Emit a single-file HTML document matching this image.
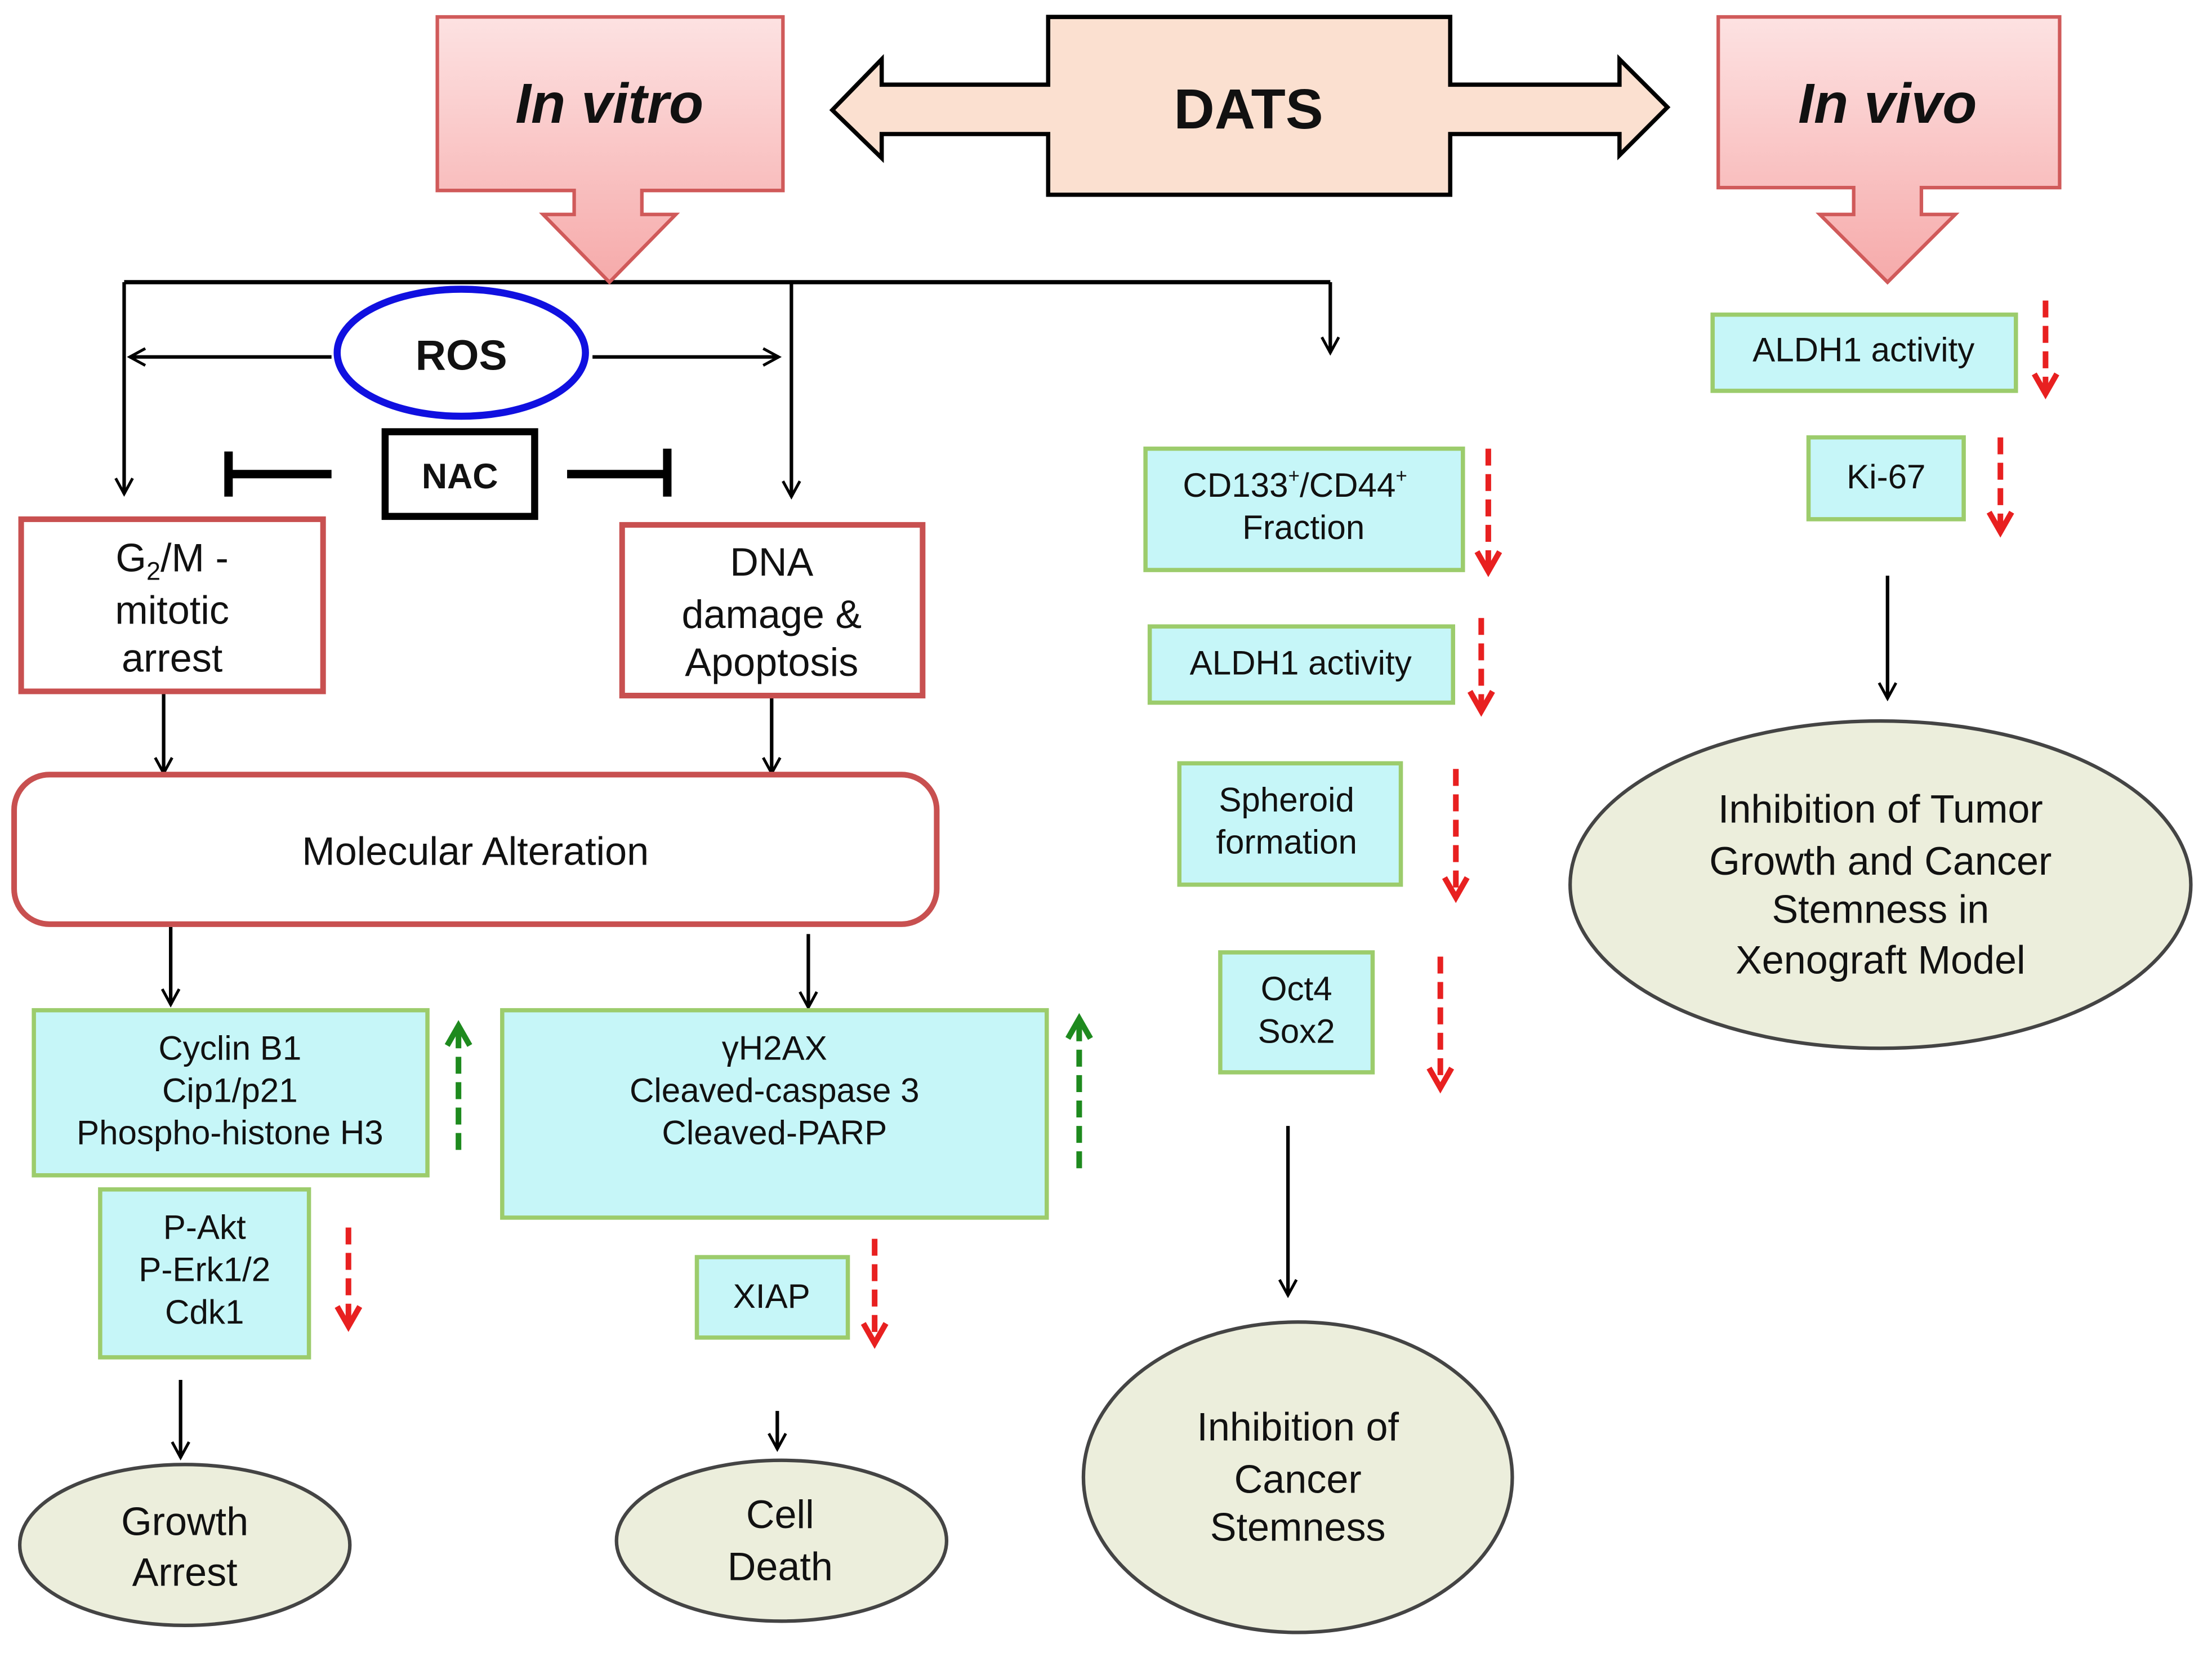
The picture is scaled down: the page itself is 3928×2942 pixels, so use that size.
<!DOCTYPE html>
<html><head><meta charset="utf-8"><style>
html,body{margin:0;padding:0;background:#fff;}
svg{display:block;}
text{font-family:"Liberation Sans",Arial,sans-serif;fill:#111;}
</style></head><body>
<svg width="3928" height="2942" viewBox="0 0 1568 1174.4" preserveAspectRatio="none" xmlns="http://www.w3.org/2000/svg">
<defs>
<linearGradient id="pk" x1="0" y1="0" x2="0" y2="1"><stop offset="0" stop-color="#fde2e2"/><stop offset="1" stop-color="#f6aaaa"/></linearGradient>
<marker id="ah" markerWidth="14" markerHeight="14" refX="12" refY="7" orient="auto" markerUnits="userSpaceOnUse"><path d="M1,1 L12,7 L1,13" fill="none" stroke="#000" stroke-width="2"/></marker>
<marker id="rh" markerWidth="20" markerHeight="20" refX="16" refY="10" orient="auto" markerUnits="userSpaceOnUse"><path d="M2,2 L16,10 L2,18" fill="none" stroke="#e82020" stroke-width="4"/></marker>
<marker id="gh" markerWidth="20" markerHeight="20" refX="16" refY="10" orient="auto" markerUnits="userSpaceOnUse"><path d="M2,2 L16,10 L2,18" fill="none" stroke="#1e8a1e" stroke-width="4"/></marker>
</defs>
<g stroke="#000" stroke-width="2.5" fill="none" marker-end="url(#ah)">
<line x1="88" y1="200" x2="88" y2="350"/>
<line x1="561" y1="200" x2="561" y2="352"/>
<line x1="943" y1="200" x2="943" y2="250"/>
<line x1="235" y1="253" x2="92" y2="253"/>
<line x1="420" y1="253" x2="552" y2="253"/>
<line x1="116" y1="492" x2="116" y2="548"/>
<line x1="547" y1="495" x2="547" y2="548"/>
<line x1="121" y1="657" x2="121" y2="712"/>
<line x1="573" y1="662" x2="573" y2="714"/>
<line x1="128" y1="978" x2="128" y2="1033"/>
<line x1="551" y1="1000" x2="551" y2="1027"/>
<line x1="913" y1="798" x2="913" y2="918"/>
<line x1="1338" y1="408" x2="1338" y2="495"/>
</g>
<line x1="88" y1="200" x2="943" y2="200" stroke="#000" stroke-width="3"/>
<!-- In vitro -->
<polygon points="310,12 555,12 555,135 455,135 455,152 479,152 432,200 385,152 407,152 407,135 310,135" fill="url(#pk)" stroke="#d05a5a" stroke-width="2.5"/>
<text x="432" y="87" font-size="40" font-weight="bold" font-style="italic" text-anchor="middle">In vitro</text>
<!-- In vivo -->
<polygon points="1218,12 1460,12 1460,133 1362,133 1362,152 1386,152 1338,200 1290,152 1314,152 1314,133 1218,133" fill="url(#pk)" stroke="#d05a5a" stroke-width="2.5"/>
<text x="1338" y="87" font-size="40" font-weight="bold" font-style="italic" text-anchor="middle">In vivo</text>
<!-- DATS -->
<polygon points="590,78 625,42 625,60 743,60 743,12 1028,12 1028,60 1148,60 1148,42 1182,76 1148,110 1148,95 1028,95 1028,138 743,138 743,95 625,95 625,112" fill="#fbe0d0" stroke="#000" stroke-width="3"/>
<text x="885" y="91" font-size="40" font-weight="bold" text-anchor="middle">DATS</text>
<!-- ROS / NAC -->
<ellipse cx="327" cy="250" rx="88" ry="45" fill="#fff" stroke="#1010e0" stroke-width="5"/>
<text x="327" y="262" font-size="30" font-weight="bold" text-anchor="middle">ROS</text>
<rect x="273" y="306" width="106" height="60" fill="#fff" stroke="#000" stroke-width="5"/>
<text x="326" y="346" font-size="25" font-weight="bold" text-anchor="middle">NAC</text>
<g stroke="#000" stroke-width="6"><line x1="162" y1="336" x2="235" y2="336"/><line x1="162" y1="320" x2="162" y2="352"/><line x1="402" y1="336" x2="473" y2="336"/><line x1="473" y1="318" x2="473" y2="352"/></g>
<!-- G2/M, DNA -->
<rect x="15" y="368" width="214" height="122" fill="#fff" stroke="#c85050" stroke-width="4"/>
<text x="122" y="405" font-size="28" text-anchor="middle">G<tspan font-size="18" dy="6">2</tspan><tspan dy="-6">/M -</tspan></text>
<text x="122" y="442" font-size="28" text-anchor="middle">mitotic</text>
<text x="122" y="476" font-size="28" text-anchor="middle">arrest</text>
<rect x="441" y="372" width="213" height="121" fill="#fff" stroke="#c85050" stroke-width="4"/>
<text x="547" y="408" font-size="28" text-anchor="middle">DNA</text>
<text x="547" y="445" font-size="28" text-anchor="middle">damage &amp;</text>
<text x="547" y="479" font-size="28" text-anchor="middle">Apoptosis</text>
<rect x="10" y="549" width="654" height="106" rx="25" fill="#fff" stroke="#c85050" stroke-width="4"/>
<text x="337" y="613" font-size="28" text-anchor="middle">Molecular Alteration</text>
<!-- cyan boxes -->
<g fill="#c6f6f8" stroke="#9ccc6c" stroke-width="3">
<rect x="24" y="716" width="279" height="117"/>
<rect x="356" y="716" width="386" height="147"/>
<rect x="71" y="843" width="148" height="119"/>
<rect x="494" y="891" width="107" height="57"/>
<rect x="812" y="318" width="225" height="86"/>
<rect x="815" y="444" width="215" height="54"/>
<rect x="836" y="541" width="157" height="86"/>
<rect x="865" y="675" width="108" height="85"/>
<rect x="1214" y="223" width="215" height="54"/>
<rect x="1282" y="310" width="110" height="58"/>
</g>
<g font-size="24" text-anchor="middle">
<text x="163" y="751">Cyclin B1</text><text x="163" y="781">Cip1/p21</text><text x="163" y="811">Phospho-histone H3</text>
<text x="549" y="751">γH2AX</text><text x="549" y="781">Cleaved-caspase 3</text><text x="549" y="811">Cleaved-PARP</text>
<text x="145" y="878">P-Akt</text><text x="145" y="908">P-Erk1/2</text><text x="145" y="938">Cdk1</text>
<text x="547" y="927">XIAP</text>
<text x="918" y="352">CD133<tspan font-size="14" dy="-10">+</tspan><tspan dy="10">/CD44</tspan><tspan font-size="14" dy="-10">+</tspan></text><text x="924" y="382">Fraction</text>
<text x="922" y="478">ALDH1 activity</text>
<text x="912" y="575">Spheroid</text><text x="912" y="605">formation</text>
<text x="919" y="709">Oct4</text><text x="919" y="739">Sox2</text>
<text x="1321" y="256">ALDH1 activity</text>
<text x="1337" y="346">Ki-67</text>
</g>
<!-- colored arrows -->
<g stroke-width="4" stroke-dasharray="12,6" fill="none">
<line x1="325" y1="815" x2="325" y2="727" stroke="#1e8a1e" marker-end="url(#gh)"/>
<line x1="765" y1="828" x2="765" y2="722" stroke="#1e8a1e" marker-end="url(#gh)"/>
<g stroke="#e82020" marker-end="url(#rh)">
<line x1="247" y1="870" x2="247" y2="940"/>
<line x1="620" y1="878" x2="620" y2="952"/>
<line x1="1055" y1="318" x2="1055" y2="405"/>
<line x1="1050" y1="438" x2="1050" y2="504"/>
<line x1="1032" y1="545" x2="1032" y2="636"/>
<line x1="1021" y1="678" x2="1021" y2="771"/>
<line x1="1450" y1="213" x2="1450" y2="279"/>
<line x1="1418" y1="310" x2="1418" y2="377"/>
</g></g>
<!-- ellipses -->
<g fill="#eceedc" stroke="#444" stroke-width="2.5">
<ellipse cx="131" cy="1095" rx="117" ry="57"/>
<ellipse cx="554" cy="1092" rx="117" ry="57"/>
<ellipse cx="920" cy="1047" rx="152" ry="110"/>
<ellipse cx="1333" cy="627" rx="220" ry="116"/>
</g>
<g font-size="28" text-anchor="middle">
<text x="131" y="1088">Growth</text><text x="131" y="1124">Arrest</text>
<text x="553" y="1083">Cell</text><text x="553" y="1120">Death</text>
<text x="920" y="1021">Inhibition of</text><text x="920" y="1058">Cancer</text><text x="920" y="1092">Stemness</text>
<text x="1333" y="583">Inhibition of Tumor</text><text x="1333" y="620">Growth and Cancer</text><text x="1333" y="654">Stemness in</text><text x="1333" y="690">Xenograft Model</text>
</g>
</svg>
</body></html>
